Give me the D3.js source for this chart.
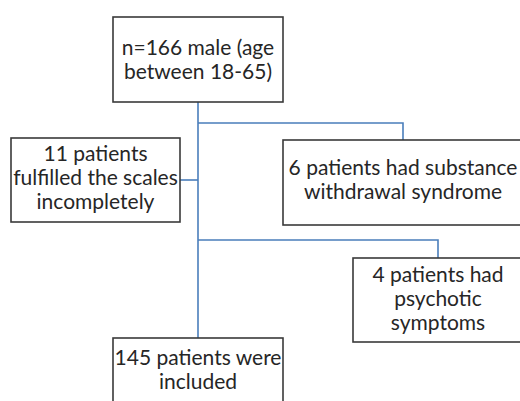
<!DOCTYPE html>
<html>
<head>
<meta charset="utf-8">
<script src="https://cdn.jsdelivr.net/npm/d3@7"></script>
<style>
  html, body { margin: 0; padding: 0; background: #fff; }
  svg { display: block; }
  text { font-family: "Lato", "Open Sans", sans-serif; fill: #262626; }
</style>
</head>
<body>
<div id="chart"></div>
<script>
const width = 520, height = 401;

// Box labels (one entry per line)
const topLabel = ["n=166 male (age", "between 18-65)"];
const scalesLabel = ["11 patients", "fulfilled the scales", "incompletely"];
const withdrawalLabel = ["6 patients had substance", "withdrawal syndrome"];
const psychoticLabel = ["4 patients had", "psychotic", "symptoms"];
const includedLabel = ["145 patients were", "included"];

// Layout of the boxes (pixels)
const boxes = [
  { id: "top", lines: topLabel, x: 113, y: 17, w: 170, h: 85, base: 55 },
  { id: "scales", lines: scalesLabel, x: 11, y: 138, w: 169, h: 84, base: 161 },
  { id: "withdrawal", lines: withdrawalLabel, x: 283, y: 140, w: 240, h: 85, base: 175 },
  { id: "psychotic", lines: psychoticLabel, x: 353, y: 258, w: 170, h: 84, base: 282 },
  { id: "included", lines: includedLabel, x: 113, y: 338, w: 170, h: 85, base: 365 }
];

const lineGap = 24;
const trunkX = 198;

const connectors = [
  [[trunkX, 102], [trunkX, 338]],
  [[trunkX, 123], [403, 123], [403, 140]],
  [[180, 180], [trunkX, 180]],
  [[trunkX, 240], [438, 240], [438, 258]]
];

const svg = d3.select("#chart").append("svg")
    .attr("width", width)
    .attr("height", height);

const line = d3.line();

svg.selectAll("path.conn")
    .data(connectors)
    .enter()
    .append("path")
    .attr("class", "conn")
    .attr("d", line)
    .attr("fill", "none")
    .attr("stroke", "#4a7ebb")
    .attr("stroke-width", 1.6);

const g = svg.selectAll("g.box")
    .data(boxes)
    .enter()
    .append("g")
    .attr("class", "box");

g.append("rect")
    .attr("x", d => d.x)
    .attr("y", d => d.y)
    .attr("width", d => d.w)
    .attr("height", d => d.h)
    .attr("fill", "#fff")
    .attr("stroke", "#3a3a3a")
    .attr("stroke-width", 1.6);

g.each(function(d) {
  d3.select(this).selectAll("text")
    .data(d.lines)
    .enter()
    .append("text")
    .attr("x", d.x + d.w / 2)
    .attr("y", (t, i) => d.base + i * lineGap)
    .attr("text-anchor", "middle")
    .attr("font-size", 21)
    .text(t => t);
});
</script>
</body>
</html>
